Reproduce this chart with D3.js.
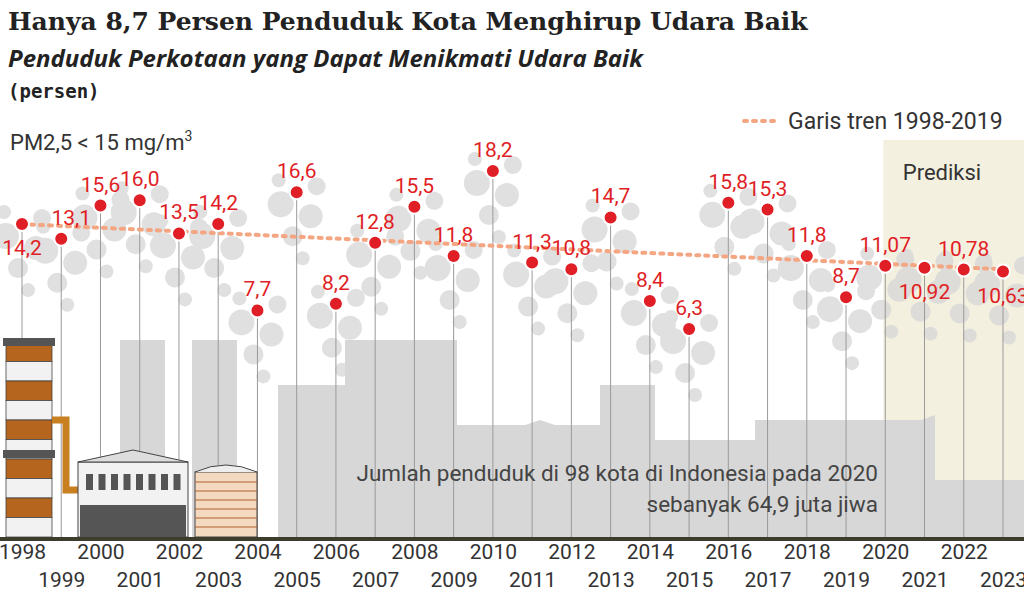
<!DOCTYPE html><html><head><meta charset="utf-8">
<script src="https://cdn.jsdelivr.net/npm/d3@7"></script>
<style>body{margin:0;background:#fff}svg{display:block}</style></head><body>
<svg id="c" width="1024" height="612"></svg>
<script>
const years=d3.range(1998,2024);
const values=[14.2,13.1,15.6,16.0,13.5,14.2,7.7,16.6,8.2,12.8,15.5,11.8,18.2,11.3,10.8,14.7,8.4,6.3,15.8,15.3,11.8,8.7,11.07,10.92,10.78,10.63];
const labels=["14,2","13,1","15,6","16,0","13,5","14,2","7,7","16,6","8,2","12,8","15,5","11,8","18,2","11,3","10,8","14,7","8,4","6,3","15,8","15,3","11,8","8,7","11,07","10,92","10,78","10,63"];
const labelPlace=["below","aboveR","above","above","above","above","above","above","above","above","above","above","above","above","above","above","above","above","above","above","above","above","above","below","above","below"];
const trend=[{year:1998,v:14.2},{year:2023,v:10.8}];
const predStart=2019.95;

const svg=d3.select("#c");
const x=d3.scaleLinear().domain([1998,2023]).range([22,1003]);
const y=d3.scaleLinear().domain([6.3,18.2]).range([329,171]);
const base=537;
const grey="#d7d7d7";

svg.append("rect").attr("x",x(predStart)).attr("y",140).attr("width",1024-x(predStart)).attr("height",base-140).attr("fill","#f4f0e0");

const offs=[[-16,12,13],[14,24,12],[-4,44,10],[20,-6,9],[6,66,7],[-18,-12,7]];
const smoke=svg.append("g").attr("fill","#d6d6d6").attr("opacity",0.75);
years.forEach((yr,i)=>{offs.forEach(o=>{smoke.append("circle").attr("cx",x(yr)+o[0]).attr("cy",y(values[i])+o[1]).attr("r",o[2]);});});

const bg=svg.append("g").attr("fill",grey);
[[120,340,45,200],[192,340,45,200],[278,385,70,152],[345,340,112,197],[455,425,145,112],[600,385,55,152],[650,440,105,97],[755,420,180,117],[935,480,89,57]].forEach(r=>bg.append("rect").attr("x",r[0]).attr("y",r[1]).attr("width",r[2]).attr("height",r[3]));
bg.append("path").attr("d","M480 440 L540 420 L600 440 Z");
bg.append("path").attr("d","M755 480 L935 415 L935 480 Z");

svg.append("g").selectAll("line").data(years).join("line")
 .attr("x1",d=>x(d)).attr("x2",d=>x(d)).attr("y1",(d,i)=>y(values[i])).attr("y2",base)
 .attr("stroke","#9a9a9a").attr("stroke-width",1);

const f=svg.append("g");
for(let k=0;k<10;k++){f.append("rect").attr("x",6).attr("y",342+k*19.5).attr("width",46).attr("height",19.5).attr("fill",k%2?"#f2f2f2":"#b5651d").attr("stroke","#444").attr("stroke-width",0.8);}
f.append("rect").attr("x",3).attr("y",338).attr("width",52).attr("height",8).attr("fill","#555");
f.append("rect").attr("x",3).attr("y",450).attr("width",52).attr("height",8).attr("fill","#555");
f.append("path").attr("d","M52 420 H66 V490 H78").attr("fill","none").attr("stroke","#c87f20").attr("stroke-width",7);
f.append("rect").attr("x",78).attr("y",462).attr("width",110).attr("height",75).attr("fill","#f2f2f2").attr("stroke","#444");
f.append("path").attr("d","M78 462 L133 450 L188 462 Z").attr("fill","#ddd").attr("stroke","#444");
for(let k=0;k<8;k++)f.append("rect").attr("x",86+k*12.5).attr("y",474).attr("width",7).attr("height",16).attr("fill","#555");
f.append("rect").attr("x",80).attr("y",505).attr("width",106).attr("height",32).attr("fill","#555");
f.append("rect").attr("x",195).attr("y",472).attr("width",62).attr("height",65).attr("fill","#f3d9c0").attr("stroke","#444");
f.append("path").attr("d","M195 472 Q226 458 257 472").attr("fill","#eee").attr("stroke","#444");
for(let k=0;k<6;k++)f.append("line").attr("x1",195).attr("x2",257).attr("y1",482+k*9).attr("y2",482+k*9).attr("stroke","#b06030");

svg.append("rect").attr("x",0).attr("y",base).attr("width",1024).attr("height",4).attr("fill","#3d3d2e");

svg.append("line").attr("x1",x(trend[0].year)).attr("y1",y(trend[0].v)).attr("x2",x(trend[1].year)).attr("y2",y(trend[1].v))
 .attr("stroke","#f4a582").attr("stroke-width",4).attr("stroke-dasharray","3,6").attr("stroke-linecap","round");

svg.append("g").selectAll("circle").data(years).join("circle")
 .attr("cx",d=>x(d)).attr("cy",(d,i)=>y(values[i])).attr("r",7)
 .attr("fill","#e01e25").attr("stroke","#fff").attr("stroke-width",2);

svg.append("g").selectAll("text").data(years).join("text")
 .attr("x",(d,i)=>x(d)+(labelPlace[i]==="aboveR"?10:0))
 .attr("y",(d,i)=>y(values[i])+(labelPlace[i]==="below"?31:-14))
 .attr("text-anchor","middle").attr("font-family","Roboto, sans-serif").attr("font-size",21)
 .attr("fill","#e01e25")
 .text((d,i)=>labels[i]);

const xa=d3.axisBottom(x).tickValues(years).tickSize(0).tickFormat(d3.format("d"));
const gx=svg.append("g").attr("transform",`translate(0,${base+4})`).call(xa);
gx.select(".domain").remove();
gx.selectAll("text").attr("font-family","Roboto, sans-serif").attr("font-size",21).attr("fill","#333")
 .attr("dy",d=>d%2?"2.05em":"0.72em");

const t=(s,xx,yy,o)=>{const e=svg.append("text").attr("x",xx).attr("y",yy).text(s);Object.entries(o).forEach(([k,v])=>e.attr(k,v));return e;};
t("Hanya 8,7 Persen Penduduk Kota Menghirup Udara Baik",8,30,{"font-family":"DejaVu Serif, serif","font-weight":"bold","font-size":25,fill:"#222"});
t("Penduduk Perkotaan yang Dapat Menikmati Udara Baik",8,67,{"font-family":"Open Sans, sans-serif","font-weight":"bold","font-style":"italic","font-size":24,fill:"#222"});
t("(persen)",8,98,{"font-family":"DejaVu Sans Mono, monospace","font-weight":"bold","font-size":19,fill:"#222"});
const pm=t("PM2,5 < 15 mg/m",10,150,{"font-family":"Roboto, sans-serif","font-size":22,fill:"#333"});
pm.append("tspan").attr("dy",-9).attr("font-size",14).text("3");
svg.append("line").attr("x1",744).attr("x2",776).attr("y1",121).attr("y2",121).attr("stroke","#f4a582").attr("stroke-width",4).attr("stroke-dasharray","3,6").attr("stroke-linecap","round");
t("Garis tren 1998-2019",788,129,{"font-family":"Roboto, sans-serif","font-size":23,fill:"#333"});
t("Prediksi",942,180,{"font-family":"Roboto, sans-serif","font-size":22,fill:"#333","text-anchor":"middle"});
t("Jumlah penduduk di 98 kota di Indonesia pada 2020",878,481,{"font-family":"Roboto, sans-serif","font-size":22.5,fill:"#444","text-anchor":"end"});
t("sebanyak 64,9 juta jiwa",878,512,{"font-family":"Roboto, sans-serif","font-size":22.5,fill:"#444","text-anchor":"end"});
</script></body></html>
